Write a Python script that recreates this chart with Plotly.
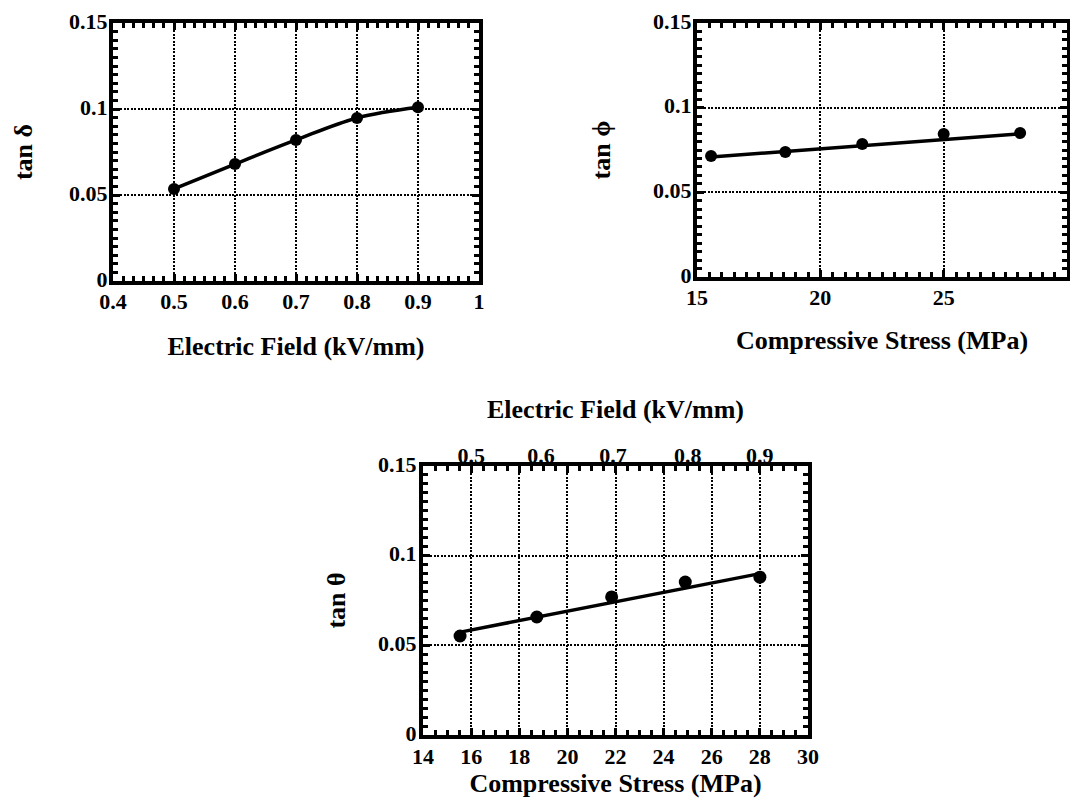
import plotly.graph_objects as go

# ---- data ----
field = [0.5, 0.6, 0.7, 0.8, 0.9]
tan_delta = [0.0535, 0.068, 0.082, 0.0948, 0.101]

stress2 = [15.57, 18.58, 21.7, 25.0, 28.1]
tan_phi = [0.0715, 0.0738, 0.0785, 0.0845, 0.085]
fit2_x = [15.57, 28.1]
fit2_y = [0.0709, 0.0845]

stress3 = [15.54, 18.73, 21.84, 24.9, 28.0]
tan_theta = [0.0552, 0.0658, 0.077, 0.0853, 0.088]
fit3_x = [15.6, 28.0]
fit3_y = [0.0575, 0.090]

top_tick_pos = [16, 18.9, 21.9, 25, 28]
top_tick_text = ["0.5", "0.6", "0.7", "0.8", "0.9"]

y_ticks = [0, 0.05, 0.1, 0.15]
y_tick_text = ["0", "0.05", "0.1", "0.15"]

FONT = "Liberation Serif"
tickfont = dict(family=FONT, size=22, color="black", weight="bold")
titlefont = dict(family=FONT, size=26, color="black", weight="bold")

# page body has an 8px margin; figure is sized to fit inside the window
OFF = 8
W, H = 1078 - 2 * OFF, 806 - 2 * OFF


def px(x):
    return (x - OFF) / W


def py(y):
    return 1 - (y - OFF) / H


fig = go.Figure()

mk = dict(color="black", size=12)
fig.add_trace(go.Scatter(x=field, y=tan_delta, mode="lines+markers",
                         line=dict(color="black", width=3.5, shape="spline"),
                         marker=mk, xaxis="x", yaxis="y", showlegend=False))
fig.add_trace(go.Scatter(x=fit2_x, y=fit2_y, mode="lines",
                         line=dict(color="black", width=3.5),
                         xaxis="x2", yaxis="y2", showlegend=False))
fig.add_trace(go.Scatter(x=stress2, y=tan_phi, mode="markers",
                         marker=mk, xaxis="x2", yaxis="y2", showlegend=False))
fig.add_trace(go.Scatter(x=fit3_x, y=fit3_y, mode="lines",
                         line=dict(color="black", width=3.5),
                         xaxis="x3", yaxis="y3", showlegend=False))
fig.add_trace(go.Scatter(x=stress3, y=tan_theta, mode="markers",
                         marker=dict(color="black", size=13), xaxis="x3", yaxis="y3", showlegend=False))
# invisible trace carrying the top (electric field) axis of panel 3
fig.add_trace(go.Scatter(x=stress3, y=tan_theta, mode="markers",
                         marker=dict(opacity=0), hoverinfo="skip",
                         xaxis="x4", yaxis="y3", showlegend=False))

BASE = dict(showgrid=True, gridcolor="black", gridwidth=2, griddash="2px,1.5px",
            showline=True, linecolor="black", linewidth=4, mirror="ticks",
            ticks="inside", ticklen=7, tickwidth=2.5, tickcolor="black",
            tickfont=tickfont, zeroline=False, title_font=titlefont,
            automargin=False)


def minor(dt):
    return dict(ticks="inside", ticklen=5, tickwidth=2.5, tickcolor="black", dtick=dt, showgrid=False)


def ax(**kw):
    d = dict(BASE)
    d.update(kw)
    return d


fig.update_layout(
    template="none",
    width=W, height=H,
    margin=dict(l=0, r=0, t=0, b=0),
    paper_bgcolor="white", plot_bgcolor="white",
    xaxis=ax(domain=[px(113), px(479)], range=[0.4, 1.0], dtick=0.1, anchor="y",
             minor=minor(0.1 / 6), ticklabelstandoff=-2,
             title=dict(text="Electric Field (kV/mm)", standoff=24)),
    yaxis=ax(domain=[py(281), py(23)], range=[0, 0.15], tickvals=y_ticks, ticktext=y_tick_text,
             anchor="x", minor=minor(0.005), ticklabelstandoff=-3, ticklabelshift=-2,
             title=dict(text="tan δ", standoff=30)),
    xaxis2=ax(domain=[px(697), px(1067)], range=[15, 30], dtick=5, anchor="y2",
              minor=minor(0.5), ticklabelstandoff=-2,
              title=dict(text="Compressive Stress (MPa)", standoff=22)),
    yaxis2=ax(domain=[py(277), py(23)], range=[0, 0.15], tickvals=y_ticks, ticktext=y_tick_text,
              anchor="x2", minor=minor(0.005), ticklabelstandoff=-3, ticklabelshift=-2,
              title=dict(text="tan ϕ", standoff=36)),
    xaxis3=ax(domain=[px(423), px(808)], range=[14, 30], dtick=2, anchor="y3",
              minor=minor(0.5), ticklabelstandoff=-1,
              title=dict(text="Compressive Stress (MPa)", standoff=18)),
    yaxis3=ax(domain=[py(735), py(466)], range=[0, 0.15], tickvals=y_ticks, ticktext=y_tick_text,
              anchor="x3", minor=minor(0.005), ticklabelstandoff=-2, ticklabelshift=-2,
              title=dict(text="tan θ", standoff=26)),
    xaxis4=dict(overlaying="x3", side="top", anchor="y3", range=[14, 30],
                tickvals=top_tick_pos, ticktext=top_tick_text, ticks="", showgrid=False,
                showline=False, zeroline=False, tickfont=tickfont, title_font=titlefont,
                automargin=False, ticklabelstandoff=-2,
                title=dict(text="Electric Field (kV/mm)", standoff=16)),
)

fig.write_html("out.html")
